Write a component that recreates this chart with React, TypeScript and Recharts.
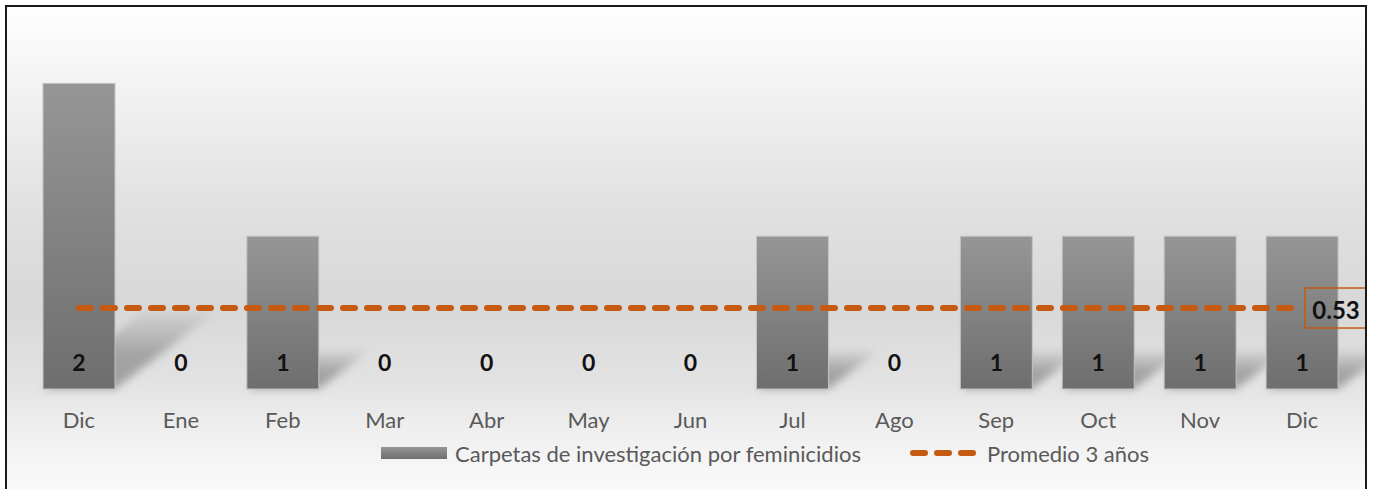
import React from 'react';
import { ComposedChart, Bar, Line, XAxis, YAxis, Legend, LabelList } from 'recharts';

const categories = ['Dic', 'Ene', 'Feb', 'Mar', 'Abr', 'May', 'Jun', 'Jul', 'Ago', 'Sep', 'Oct', 'Nov', 'Dic'];
const carpetas = [2, 0, 1, 0, 0, 0, 0, 1, 0, 1, 1, 1, 1];
const promedio = [0.53, 0.53, 0.53, 0.53, 0.53, 0.53, 0.53, 0.53, 0.53, 0.53, 0.53, 0.53, 0.53];
const seriesNames = ['Carpetas de investigación por feminicidios', 'Promedio 3 años'];

const data = categories.map((mes, i) => ({ mes, carpetas: carpetas[i], promedio: promedio[i] }));

const FONT = 'Lato, "Open Sans", sans-serif';
const ORANGE = '#c55a11';
const TEXT = '#595959';

const BarShape = (props: any) => {
  const { x, y, width, height } = props;
  if (!height || height <= 0) return null;
  const bottom = y + height;
  const h = height * 0.25;
  const skew = h * 1.3;
  const pts = `${x},${bottom} ${x + width},${bottom} ${x + width + skew},${bottom - h} ${x + skew},${bottom - h}`;
  return (
    <g>
      <polygon points={pts} fill="url(#shadowGrad)" filter="url(#shadowBlur)" />
      <rect x={x} y={y} width={width} height={height} fill="url(#barGrad)" stroke="#c4c4c4" strokeWidth={1} />
    </g>
  );
};

const BarLabel = (props: any) => {
  const { x, y, width, height, value } = props;
  const bottom = y + (height || 0);
  return (
    <text x={x + width / 2} y={bottom - 27} textAnchor="middle" dominantBaseline="central"
      fontFamily={FONT} fontWeight={700} fontSize={23} fill="#111">
      {value}
    </text>
  );
};

const LineLabel = (props: any) => {
  const { x, y, index, value } = props;
  if (index !== categories.length - 1) return null;
  return (
    <g>
      <rect x={x + 3} y={y - 20} width={62} height={40} fill="none" stroke={ORANGE} strokeWidth={1.5} />
      <text x={x + 34} y={y + 1} textAnchor="middle" dominantBaseline="central"
        fontFamily={FONT} fontWeight={700} fontSize={24} fill="#111">
        {value}
      </text>
    </g>
  );
};

const LegendContent = () => (
  <div style={{ position: 'relative', width: 1374, height: 36, fontFamily: FONT, fontSize: 22, color: TEXT }}>
    <div style={{ position: 'absolute', left: 381, top: 0, height: 36, display: 'flex', alignItems: 'center', whiteSpace: 'nowrap' }}>
      <span style={{ display: 'inline-block', width: 66, height: 12, background: 'linear-gradient(#969696, #6e6e6e)', marginRight: 8 }} />
      <span>{seriesNames[0]}</span>
    </div>
    <div style={{ position: 'absolute', left: 910, top: 0, height: 36, display: 'flex', alignItems: 'center', whiteSpace: 'nowrap' }}>
      <svg width={66} height={8} style={{ marginRight: 11 }}>
        <line x1={3} y1={4} x2={63} y2={4} stroke={ORANGE} strokeWidth={6} strokeLinecap="round" strokeDasharray="12 12" />
      </svg>
      <span>{seriesNames[1]}</span>
    </div>
  </div>
);

export default function App() {
  return (
    <div style={{ position: 'absolute', left: 0, top: 0, width: 1374, height: 489, overflow: 'hidden', background: '#fff' }}>
      <div style={{
        position: 'absolute', left: 5, top: 5, width: 1362, height: 520, boxSizing: 'border-box',
        background: 'linear-gradient(to bottom, #ffffff 0%, #f3f3f3 15%, #e0e0e0 40%, #d8d8d8 58%, #e2e2e2 72%, #efefef 82%, #fbfbfb 94%, #ffffff 100%)'
      }} />
      <div style={{ position: 'absolute', left: 0, top: 0, width: 1366, height: 489, overflow: 'hidden' }}>
        <ComposedChart width={1374} height={489} data={data} margin={{ top: 7, right: 21, left: 28, bottom: 18 }}>
          <defs>
            <linearGradient id="barGrad" x1="0" y1="0" x2="0" y2="1">
              <stop offset="0%" stopColor="#969696" />
              <stop offset="100%" stopColor="#6e6e6e" />
            </linearGradient>
            <linearGradient id="shadowGrad" x1="0" y1="0" x2="0" y2="1">
              <stop offset="0%" stopColor="#8a8a8a" stopOpacity={0.1} />
              <stop offset="55%" stopColor="#8a8a8a" stopOpacity={0.7} />
              <stop offset="100%" stopColor="#8a8a8a" stopOpacity={0.75} />
            </linearGradient>
            <filter id="shadowBlur" x="-50%" y="-50%" width="200%" height="200%">
              <feGaussianBlur stdDeviation="4" />
            </filter>
          </defs>
          <XAxis dataKey="mes" axisLine={false} tickLine={false} height={46} tickMargin={17}
            tick={{ fill: TEXT, fontSize: 22, fontFamily: FONT }} interval={0} />
          <YAxis hide domain={[0, 2.5]} />
          <Legend verticalAlign="bottom" height={36} content={<LegendContent />} wrapperStyle={{ left: 0, width: 1374 }} />
          <Bar dataKey="carpetas" name={seriesNames[0]} barSize={72} shape={<BarShape />} isAnimationActive={false}>
            <LabelList dataKey="carpetas" content={<BarLabel />} />
          </Bar>
          <Line dataKey="promedio" name={seriesNames[1]} stroke={ORANGE} strokeWidth={6} strokeLinecap="round"
            strokeDasharray="12 12" dot={false} activeDot={false} isAnimationActive={false} label={<LineLabel />} />
        </ComposedChart>
      </div>
      <div style={{
        position: 'absolute', left: 5, top: 5, width: 1362, height: 520, boxSizing: 'border-box',
        border: '2px solid #1a1a1a', pointerEvents: 'none'
      }} />
    </div>
  );
}
